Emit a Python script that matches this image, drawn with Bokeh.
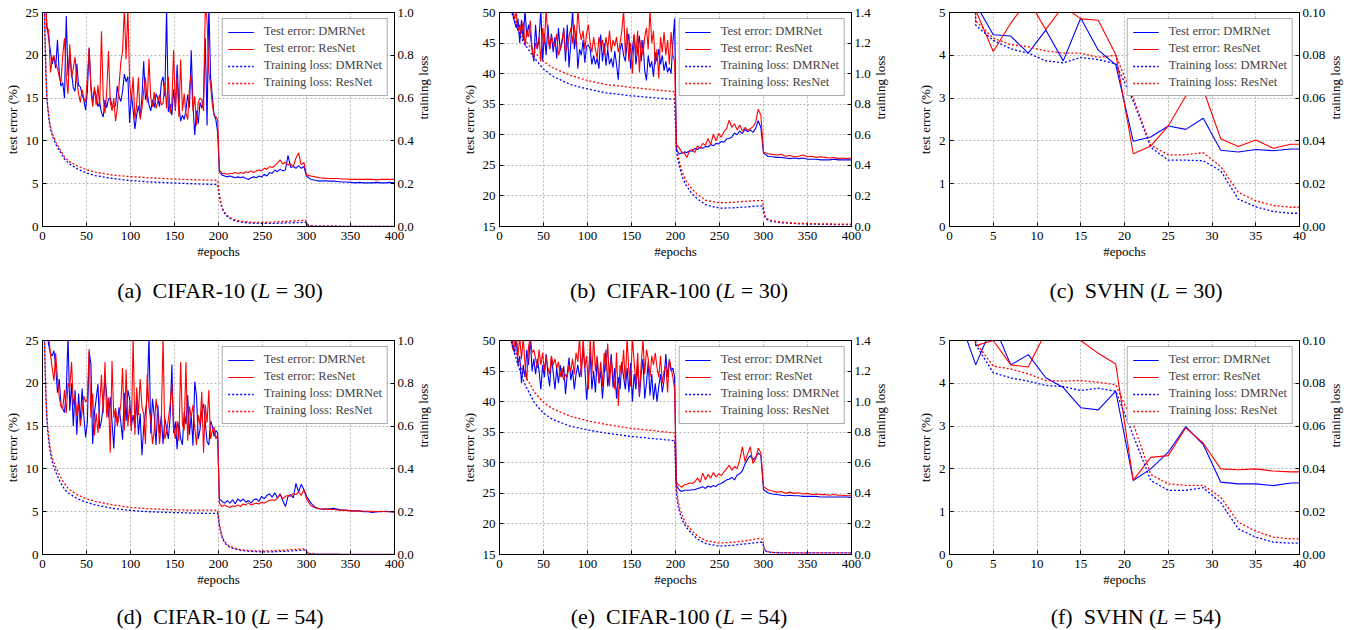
import math
from bokeh.plotting import figure
from bokeh.models import Range1d, LinearAxis, PrintfTickFormatter, Legend, LegendItem, Div
from bokeh.layouts import column, row
from bokeh.embed import file_html
from bokeh.resources import INLINE

FONT = "Liberation Serif"

# ---------------- epochs ----------------
EP_CIFAR_TE = list(range(1, 200, 2)) + list(range(201, 300, 3)) + list(range(300, 401, 5))
EP_CIFAR_TL = [1, 2, 3, 4, 5, 6, 8, 10, 12, 15, 20, 25, 30, 40, 50, 60, 80, 100, 120, 150, 175, 199,
               201, 203, 205, 208, 212, 218, 225, 235, 250, 265, 280, 295, 299,
               301, 303, 306, 310, 320, 340, 360, 380, 400]
EP_SVHN = [1, 3, 5, 7, 9, 11, 13, 15, 17, 19, 21, 23, 25, 27, 29, 31, 33, 35, 37, 39, 40]

# ---------------- (a) CIFAR-10, L=30 ----------------
A_TE_DMR = [32, 27, 23.5, 22, 20.5, 19, 19.8, 18.5, 21.8, 18,
            16.4, 16.8, 15, 24.6, 17.6, 20.3, 18, 16.2, 15.8, 19,
            16.5, 16.3, 15.4, 14.8, 13.6, 15.8, 20.9, 16.5, 14.5, 16,
            15.3, 14.0, 14.5, 13.3, 12.8, 14.8, 13.9, 14.9, 15.0, 14.1,
            14.0, 14.1, 16.4, 15.2, 14.6, 15.8, 17.8, 16.9, 17.5, 12.1,
            15.5, 13.6, 11.4, 13.0, 14.1, 12.8, 15.1, 19.3, 14.8, 15.6,
            14.2, 13.5, 14.8, 13.9, 15.5, 15.0, 14.0, 16.8, 17.5, 15.2,
            25.5, 13.4, 14.3, 13.0, 16.0, 13.8, 18.9, 14.1, 12.3, 13.0,
            12.5, 13.6, 15.4, 13.9, 20.6, 14.2, 10.7, 13.5, 12.0, 14.5,
            13.8, 15.0, 22.0, 11.8, 26, 17.5, 15.2, 13.0, 12.5, 11.0,
            6.4, 6.0, 5.9, 5.8, 5.9, 5.8, 5.7, 5.8, 5.7, 5.8, 5.6, 5.5, 5.7, 5.8, 5.7, 5.9, 5.8,
            6.1, 5.9, 6.3, 6.2, 6.6, 6.4, 6.7, 6.5, 6.6, 8.3, 6.9, 7.0, 6.8, 7.1, 6.8, 7.0,
            5.9, 5.5, 5.4, 5.3, 5.35, 5.3, 5.3, 5.25, 5.2, 5.2, 5.15, 5.1, 5.15, 5.1, 5.1, 5.1,
            5.15, 5.1, 5.1, 5.15, 5.1]
A_TE_RES = [34, 28, 23, 23, 18, 19.5, 20, 19, 18.5, 17.5,
            16.8, 20, 22, 17.5, 15.5, 21.3, 17.4, 18.5, 19.8, 17,
            15.5, 14.5, 16, 15, 14.5, 17.5, 20.8, 16, 14, 16.3,
            14.2, 16.5, 14, 22.8, 15, 13.2, 15.8, 20.5, 14.5, 13.5,
            15, 12.3, 13.8, 16.5, 19.2, 20.5, 25.5, 19.5, 25.5, 17,
            14.5, 17.5, 12.5, 14.2, 17.4, 12.5, 13.8, 15.8, 17.4, 14.5,
            19.6, 15, 14, 15.7, 13.8, 14.6, 15.4, 14.2, 14.4, 16.8,
            13.8, 17.5, 13.2, 14.5, 20.6, 13.5, 17.5, 12.8, 19.5, 13.5,
            15.5, 13.2, 12.5, 16.3, 17.8, 13.5, 15.2, 11.8, 14.5, 15,
            14.8, 13.5, 26, 24, 18, 16.5, 14.2, 13, 12.8, 12.5,
            6.6, 6.2, 6.2, 6.1, 6.2, 6.2, 6.3, 6.2, 6.3, 6.2, 6.4, 6.3, 6.5, 6.3, 6.5, 6.6, 6.5,
            6.8, 6.7, 7.0, 6.9, 7.1, 7.4, 7.8, 7.3, 7.5, 7.2, 7.3, 7.0, 8.0, 8.6, 7.2, 7.5,
            6.0, 5.9, 5.8, 5.7, 5.65, 5.6, 5.6, 5.6, 5.55, 5.55, 5.5, 5.5, 5.5, 5.5, 5.5, 5.5,
            5.45, 5.5, 5.5, 5.5, 5.5]
A_TL_DMR = [1.35, 1.05, 0.85, 0.7, 0.6, 0.55, 0.48, 0.44, 0.415, 0.385, 0.35, 0.315, 0.295, 0.268,
            0.25, 0.238, 0.224, 0.215, 0.209, 0.203, 0.199, 0.196,
            0.14, 0.1, 0.075, 0.055, 0.04, 0.028, 0.021, 0.016, 0.014, 0.015, 0.017, 0.019, 0.02,
            0.008, 0.004, 0.003, 0.002, 0.0015, 0.001, 0.001, 0.001, 0.001]
A_TL_RES = [1.4, 1.08, 0.87, 0.72, 0.61, 0.56, 0.49, 0.45, 0.425, 0.395, 0.36, 0.325, 0.305, 0.282,
            0.265, 0.254, 0.24, 0.233, 0.228, 0.222, 0.218, 0.216,
            0.15, 0.105, 0.08, 0.06, 0.044, 0.032, 0.025, 0.02, 0.019, 0.021, 0.025, 0.029, 0.03,
            0.012, 0.005, 0.003, 0.002, 0.0015, 0.001, 0.001, 0.001, 0.001]

# ---------------- (b) CIFAR-100, L=30 ----------------
B_TE_DMR = [62, 60, 58, 56, 54, 52, 50.5, 49.8, 48.5, 47.5,
            49, 45, 48.8, 45.5, 50.5, 46, 48, 46.5, 44, 42,
            48, 44, 46, 50.5, 42, 46.5, 43, 48, 44, 46.5,
            43.5, 46, 42.5, 47.5, 43.8, 45, 47.5, 42, 48, 41,
            45, 50.5, 44, 47, 40.8, 44, 43, 45.5, 41.8, 44.5,
            44.7, 44, 41.5, 43, 41.5, 42.5, 40.8, 46.4, 42, 45,
            41.3, 44, 41.5, 42.5, 41, 43.7, 41.5, 39, 44, 45,
            43, 42, 45, 46.5, 40.8, 44, 46.3, 41.5, 44, 46.2,
            42, 45.5, 40.5, 38.9, 43, 41, 42, 39.5, 43.5, 42,
            44, 41.5, 43, 40.5, 42, 40.2, 41, 40, 45, 49,
            27.5, 26.9, 27.0, 27.2, 27.1, 27.4, 27.3, 27.8, 27.6, 27.9, 27.8, 28.1, 28.0, 28.4, 28.2,
            28.6, 28.5, 28.9, 28.8, 29.3, 29.4, 29.6, 30.3, 30.0, 30.6, 30.2, 30.9, 30.5, 30.8, 30.4,
            31.0, 32.3, 31.2,
            27.0, 26.5, 26.4, 26.3, 26.3, 26.2, 26.1, 26.2, 26.1, 26.2, 26.0, 26.0, 26.0, 25.9, 25.9,
            25.9, 26.0, 25.9, 25.9, 25.9, 25.9]
B_TE_RES = [64, 62, 60, 58, 55, 53, 51.5, 50.5, 49, 50,
            47, 48, 46.5, 48.5, 44.5, 47, 46, 48.7, 44, 42.5,
            45, 44, 46, 42, 47.5, 45, 50.5, 46, 44, 46.2,
            45, 44.5, 46.5, 43, 44, 45.5, 47, 43.5, 44.5, 46,
            47.5, 45, 48, 44.5, 50.5, 47, 45.5, 47, 44, 46.5,
            48, 45, 43.5, 46, 44, 42.5, 46, 44.5, 45.5, 43,
            46, 44, 47, 43.5, 45.5, 44.5, 46, 43.5, 45, 47,
            50.5, 43, 47.5, 42, 45, 40, 46.5, 43, 47, 40.2,
            45.5, 43, 46, 47.5, 44, 50.5, 45, 47, 41.5, 44,
            39.2, 46, 43.5, 46.8, 43, 45.5, 41.5, 46.8, 43, 42,
            28.4, 27.9, 27.2, 27.0, 26.3, 27.4, 27.6, 27.1, 28.2, 27.8, 28.6, 28.3, 29.4, 28.4, 30.1,
            29.0, 30.2, 29.6, 30.5, 31.0, 32.4, 31.2, 31.8, 30.8, 31.6, 30.6, 31.2, 30.7, 31.0, 31.3,
            32.0, 34.2, 33.2,
            27.2, 26.9, 26.8, 26.7, 26.8, 26.5, 26.6, 26.4, 26.5, 26.7, 26.4, 26.5, 26.3, 26.4, 26.3,
            26.2, 26.3, 26.1, 26.2, 26.1, 26.2]
B_TL_DMR = [2.2, 2.0, 1.9, 1.8, 1.72, 1.65, 1.55, 1.48, 1.43, 1.38, 1.3, 1.23, 1.18, 1.1, 1.03, 0.985,
            0.93, 0.9, 0.875, 0.855, 0.842, 0.832,
            0.5, 0.43, 0.38, 0.32, 0.27, 0.22, 0.18, 0.14, 0.12, 0.122, 0.128, 0.135, 0.133,
            0.07, 0.05, 0.04, 0.033, 0.025, 0.018, 0.015, 0.013, 0.012]
B_TL_RES = [2.2, 2.0, 1.92, 1.83, 1.75, 1.68, 1.58, 1.51, 1.46, 1.41, 1.32, 1.26, 1.21, 1.14, 1.08, 1.04,
            0.99, 0.955, 0.93, 0.91, 0.895, 0.882,
            0.55, 0.46, 0.41, 0.35, 0.3, 0.25, 0.21, 0.17, 0.155, 0.158, 0.165, 0.17, 0.168,
            0.08, 0.055, 0.045, 0.037, 0.028, 0.021, 0.018, 0.016, 0.015]

# ---------------- (c) SVHN, L=30 ----------------
C_TE_DMR = [7.0, 5.2, 4.48, 4.45, 4.05, 4.59, 3.87, 4.87, 4.12, 3.78, 1.99, 2.09, 2.35, 2.27, 2.53,
            1.78, 1.74, 1.8, 1.77, 1.81, 1.81]
C_TE_RES = [7.0, 5.05, 4.09, 4.75, 5.3, 4.6, 5.15, 4.85, 4.82, 4.02, 1.7, 1.88, 2.35, 3.05, 3.2,
            2.05, 1.87, 2.02, 1.83, 1.92, 1.92]
C_TL_DMR = [0.5, 0.094, 0.087, 0.083, 0.081, 0.0774, 0.0765, 0.079, 0.078, 0.076, 0.0587, 0.037,
            0.031, 0.031, 0.0307, 0.026, 0.0128, 0.0092, 0.007, 0.0062, 0.0062]
C_TL_RES = [0.52, 0.096, 0.088, 0.085, 0.084, 0.082, 0.081, 0.081, 0.079, 0.08, 0.06, 0.038,
            0.0335, 0.0335, 0.0345, 0.028, 0.016, 0.012, 0.0098, 0.009, 0.009]

# ---------------- (d) CIFAR-10, L=54 ----------------
D_TE_DMR = [35, 30, 26, 24.5, 23.5, 23.2, 23.8, 22, 18.9, 20.5,
            17.5, 17, 16.6, 19, 25.5, 16.8, 20, 15, 19.2, 14,
            18.8, 15.5, 19.4, 16.2, 13.7, 15.5, 23.7, 22.3, 12.9, 16.5,
            18.2, 19.9, 14.7, 15.6, 17.5, 20.6, 18.5, 16, 18.4, 15.5,
            12.4, 16.8, 15.5, 17.2, 15.5, 13.4, 18.9, 15.6, 19.2, 18.2,
            15, 16.3, 14.8, 18.2, 14, 16.5, 11.6, 14.8, 16.7, 18.5,
            25.5, 14.1, 18.2, 16.2, 12.8, 17.5, 14.2, 16.2, 12.9, 15.9,
            14.8, 13.5, 16, 22.2, 14.2, 15.5, 12.3, 15.4, 13.5, 12.8,
            16.6, 15.2, 18.6, 14, 16.3, 12.7, 20.2, 18.5, 13.5, 14.6,
            16.8, 17.6, 15.4, 13.2, 12.8, 15.6, 15, 13.8, 14.5, 14.2,
            6.5, 6.2, 6.0, 6.3, 6.0, 6.4, 5.9, 6.5, 6.2, 6.5, 6.1, 6.3, 6.0, 6.4, 6.5, 6.2, 6.8,
            6.5, 6.9, 7.1, 6.7, 7.2, 6.6, 7.1, 6.3, 5.6, 6.8, 7.0, 6.6, 8.3, 7.3, 8.2, 7.6,
            6.8, 6.0, 5.5, 5.35, 5.3, 5.3, 5.4, 5.3, 5.2, 5.2, 5.1, 5.1, 5.1, 5.0, 5.0, 4.9,
            5.0, 5.0, 5.05, 5.0, 4.95]
D_TE_RES = [36, 30, 27, 25.5, 23.5, 21.8, 20.3, 23.5, 20.5, 18.4,
            17.3, 17, 19.2, 16.5, 20, 19.5, 22.5, 17.5, 18.7, 16.2,
            17.6, 15, 16.7, 18.5, 17.8, 18.2, 24, 16, 18.8, 13.9,
            16.5, 14.2, 17.5, 21, 16.5, 22.5, 16, 18.3, 11.9, 22.6,
            16, 17.1, 15, 16.1, 17.5, 21.8, 14.5, 21.6, 15, 17.5,
            14.4, 25.5, 14, 19.5, 16.3, 20.5, 17.3, 16.4, 12.9, 21,
            17.2, 15.8, 12.9, 14.5, 18.2, 16.4, 12.9, 15.5, 25.5, 13.5,
            14.3, 15.8, 17.5, 20, 14.8, 13.5, 15.6, 13.3, 22.5, 15.2,
            14.5, 22.5, 13.3, 17.3, 16, 17.5, 14.8, 12.8, 16.3, 15.1,
            19, 11.9, 17.5, 15.4, 19.2, 13.5, 14.5, 14.9, 13.5, 14,
            6.0, 5.6, 5.8, 5.6, 5.5, 5.7, 5.6, 5.8, 5.6, 5.9, 5.8, 6.0, 5.8, 5.9, 6.0, 5.9, 6.1,
            6.0, 6.2, 6.3, 6.4, 6.3, 6.6, 7.0, 6.5, 6.8, 6.9, 6.8, 7.1, 7.0, 7.3, 6.9, 7.6,
            6.5, 5.7, 5.45, 5.35, 5.3, 5.3, 5.25, 5.2, 5.15, 5.15, 5.1, 5.1, 5.1, 5.05, 5.05, 5.05,
            5.0, 5.05, 5.0, 5.0, 5.0]
D_TL_DMR = [1.35, 1.05, 0.86, 0.72, 0.63, 0.57, 0.5, 0.45, 0.42, 0.385, 0.34, 0.305, 0.285, 0.26,
            0.244, 0.232, 0.215, 0.206, 0.2, 0.196, 0.193, 0.192,
            0.135, 0.095, 0.07, 0.05, 0.036, 0.026, 0.019, 0.015, 0.012, 0.013, 0.016, 0.02, 0.021,
            0.008, 0.004, 0.003, 0.002, 0.0015, 0.001, 0.001, 0.001, 0.001]
D_TL_RES = [1.4, 1.08, 0.88, 0.74, 0.65, 0.59, 0.52, 0.47, 0.44, 0.41, 0.365, 0.33, 0.305, 0.278,
            0.26, 0.248, 0.232, 0.22, 0.214, 0.209, 0.207, 0.207,
            0.145, 0.1, 0.075, 0.055, 0.04, 0.03, 0.023, 0.018, 0.016, 0.018, 0.022, 0.026, 0.027,
            0.01, 0.005, 0.003, 0.002, 0.0015, 0.001, 0.001, 0.001, 0.001]

# ---------------- (e) CIFAR-100, L=54 ----------------
E_TE_DMR = [62, 60, 58, 56, 54, 52, 50.5, 49.5, 48, 50.5,
            46, 47.5, 43, 46, 44, 48.5, 46, 50.5, 45, 47,
            44.5, 47, 45, 42, 46, 44, 47.8, 44.5, 42.5, 47.2,
            44.8, 42, 45.5, 43, 46, 44, 45.8, 41.2, 44.5, 47.2,
            43.5, 45.2, 42, 44.5, 46, 44, 45.5, 48.5, 45.5, 40.3,
            44, 48, 42, 45, 41.5, 47.2, 43, 45, 40.5, 44.5,
            48.5, 42.5, 45, 47.8, 42.3, 45.5, 40.5, 44, 42, 46.5,
            44, 42, 45.5, 41.5, 46.3, 40, 44.5, 42, 46, 40.8,
            44.5, 47, 40.5, 43, 46.5, 41, 44.5, 40.3, 43, 40,
            42.5, 44.5, 41.5, 43.5, 47.8, 44, 46.8, 45, 45.5, 44,
            26.3, 25.6, 25.3, 25.5, 25.5, 25.5, 25.6, 25.6, 25.8, 25.9, 26.1, 25.8, 26.2, 26.0, 26.3,
            26.1, 26.5, 26.6, 26.9, 27.2, 27.3, 27.6, 27.2, 28.0, 28.2, 28.7, 29.8, 30.6, 31.2, 30.5,
            30.9, 31.6, 31.2,
            25.6, 25.1, 24.9, 24.8, 24.7, 24.6, 24.7, 24.6, 24.6, 24.5, 24.5, 24.5, 24.5, 24.4, 24.4,
            24.4, 24.4, 24.4, 24.4, 24.4, 24.3]
E_TE_RES = [64, 62, 60, 58, 55, 52, 51, 48.5, 49.5, 51,
            47.5, 50.5, 47, 50.5, 46, 43.5, 49, 50.5, 48, 48.5,
            47, 45.5, 48.5, 46, 48, 45, 47.5, 45.5, 44.5, 47.5,
            46, 47, 45.5, 46.5, 44, 45.5, 43.5, 44.5, 44, 46,
            45, 47, 44.5, 48, 46.5, 50.5, 44, 50.5, 45.5, 47.5,
            42, 50.5, 44.5, 50.5, 45, 47.5, 43, 46.5, 42.5, 48,
            45, 49.5, 42.5, 47, 44.5, 42, 48, 39.3, 46, 44.5,
            48.5, 43, 50.5, 45, 42.5, 50.5, 46.5, 43, 48, 41,
            46, 50.3, 44.5, 48.5, 47, 44, 47.5, 46, 48, 45.5,
            44, 47.5, 43, 45, 46, 41.5, 47, 45.5, 44, 42,
            26.8, 26.3, 26.0, 26.4, 26.5, 26.7, 26.6, 26.9, 27.5, 26.8, 28.3, 27.2, 28.1, 27.5, 28.4,
            27.7, 28.2, 27.9, 28.5, 29.0, 29.6, 28.8, 29.4, 29.0, 30.5, 32.6, 30.2, 31.5, 32.6, 29.9,
            30.6, 32.4, 31.6,
            26.1, 25.6, 25.4, 25.2, 25.3, 25.0, 25.2, 25.0, 25.1, 24.9, 25.0, 24.8, 24.9, 24.8, 24.8,
            24.7, 24.8, 24.7, 24.7, 24.6, 24.6]
E_TL_DMR = [2.2, 2.0, 1.9, 1.8, 1.72, 1.65, 1.55, 1.47, 1.42, 1.36, 1.26, 1.17, 1.1, 0.99, 0.925, 0.885,
            0.84, 0.815, 0.795, 0.772, 0.758, 0.745,
            0.4, 0.32, 0.27, 0.22, 0.18, 0.14, 0.1, 0.07, 0.055, 0.06, 0.07, 0.08, 0.08,
            0.03, 0.02, 0.016, 0.013, 0.011, 0.01, 0.01, 0.01, 0.01]
E_TL_RES = [2.2, 2.0, 1.92, 1.83, 1.75, 1.68, 1.58, 1.5, 1.45, 1.4, 1.3, 1.22, 1.16, 1.06, 0.995, 0.955,
            0.905, 0.875, 0.852, 0.825, 0.81, 0.795,
            0.45, 0.35, 0.3, 0.25, 0.2, 0.16, 0.12, 0.09, 0.075, 0.08, 0.09, 0.105, 0.1,
            0.035, 0.022, 0.017, 0.014, 0.012, 0.011, 0.011, 0.011, 0.011]

# ---------------- (f) SVHN, L=54 ----------------
F_TE_DMR = [5.6, 4.43, 5.4, 4.43, 4.67, 4.13, 3.9, 3.43, 3.38, 3.82, 1.73, 2.0, 2.39, 2.99, 2.57,
            1.69, 1.65, 1.65, 1.61, 1.67, 1.67]
F_TE_RES = [8.0, 4.88, 5.0, 4.43, 4.38, 5.2, 5.3, 5.0, 4.7, 4.45, 1.73, 2.27, 2.31, 2.96, 2.6,
            2.0, 1.98, 2.0, 1.95, 1.93, 1.93]
F_TL_DMR = [0.5, 0.098, 0.085, 0.0825, 0.081, 0.079, 0.0785, 0.0766, 0.0777, 0.0763, 0.0556, 0.0346,
            0.03, 0.03, 0.0312, 0.0243, 0.012, 0.0081, 0.0058, 0.0053, 0.0053]
F_TL_RES = [0.52, 0.099, 0.088, 0.0867, 0.0844, 0.0813, 0.081, 0.0813, 0.0805, 0.0793, 0.0611, 0.0374,
            0.033, 0.0323, 0.0323, 0.0268, 0.0151, 0.0109, 0.0081, 0.0073, 0.0073]

# ---------------- axes / labels ----------------
CIFAR_XTICKS = [0, 50, 100, 150, 200, 250, 300, 350, 400]
SVHN_XTICKS = [0, 5, 10, 15, 20, 25, 30, 35, 40]
C10_YTICKS = [0, 5, 10, 15, 20, 25]
C100_YTICKS = [15, 20, 25, 30, 35, 40, 45, 50]
SVHN_YTICKS = [0, 1, 2, 3, 4, 5]
C10_LTICKS = [0.0, 0.2, 0.4, 0.6, 0.8, 1.0]
C100_LTICKS = [0.0, 0.2, 0.4, 0.6, 0.8, 1.0, 1.2, 1.4]
SVHN_LTICKS = [0.0, 0.02, 0.04, 0.06, 0.08, 0.10]
LEGEND_LABELS = ["Test error: DMRNet", "Test error: ResNet", "Training loss: DMRNet", "Training loss: ResNet"]
CAPTIONS = [("(a)", "CIFAR-10", "30"), ("(b)", "CIFAR-100", "30"), ("(c)", "SVHN", "30"),
            ("(d)", "CIFAR-10", "54"), ("(e)", "CIFAR-100", "54"), ("(f)", "SVHN", "54")]


def style_axis(ax, standoff, label_standoff):
    ax.major_label_text_font = FONT
    ax.major_label_text_font_size = "13px"
    ax.axis_label_text_font = FONT
    ax.axis_label_text_font_size = "13px"
    ax.axis_label_text_font_style = "normal"
    ax.axis_label_text_color = "black"
    ax.major_label_text_color = "black"
    ax.major_tick_in = 4
    ax.major_tick_out = 0
    ax.minor_tick_in = 0
    ax.minor_tick_out = 0
    ax.axis_line_color = "black"
    ax.major_tick_line_color = "black"
    ax.major_label_standoff = standoff
    ax.axis_label_standoff = label_standoff


def panel(width, b_right, height, xmax, xticks, yr, yticks, lr, lticks, lfmt,
          ep_te, te_d, te_r, ep_tl, tl_d, tl_r):
    p = figure(width=width, height=height, x_range=Range1d(0, xmax), y_range=Range1d(*yr),
               output_backend="svg", toolbar_location=None,
               min_border_left=42, min_border_right=b_right, min_border_top=12, min_border_bottom=40)
    p.extra_y_ranges = {"loss": Range1d(*lr)}
    p.outline_line_color = "black"
    p.outline_line_width = 1
    p.background_fill_color = "white"
    p.border_fill_color = "white"
    p.xaxis.ticker = xticks
    p.yaxis.ticker = yticks
    p.xaxis.axis_label = "#epochs"
    p.yaxis.axis_label = "test error (%)"
    style_axis(p.xaxis[0], 5, 1)
    style_axis(p.yaxis[0], 4, 3)
    rax = LinearAxis(y_range_name="loss", ticker=lticks, formatter=PrintfTickFormatter(format=lfmt),
                     axis_label="training loss")
    style_axis(rax, 3, 7)
    try:
        rax.axis_label_orientation = math.pi / 2
    except Exception:
        pass
    p.add_layout(rax, "right")
    p.grid.grid_line_color = "#b4b4b4"
    p.grid.grid_line_dash = "2 2"
    p.grid.grid_line_width = 1

    r1 = p.line(ep_te, te_d, line_color="#0000ff", line_width=1.1)
    r2 = p.line(ep_te, te_r, line_color="#ff0000", line_width=1.1)
    r3 = p.line(ep_tl, tl_d, line_color="#0000ff", line_width=1.3, line_dash="2 2", y_range_name="loss")
    r4 = p.line(ep_tl, tl_r, line_color="#ff0000", line_width=1.3, line_dash="2 2", y_range_name="loss")
    items = [LegendItem(label=lab, renderers=[r]) for lab, r in zip(LEGEND_LABELS, [r1, r2, r3, r4])]
    leg = Legend(items=items, location="top_right")
    leg.label_text_font = FONT
    leg.label_text_font_size = "12.5px"
    leg.glyph_width = 26
    leg.glyph_height = 14
    leg.label_height = 14
    leg.spacing = 2
    leg.padding = 5
    leg.margin = 6
    leg.label_standoff = 10
    leg.border_line_color = "#555555"
    leg.border_line_width = 1
    leg.background_fill_alpha = 1.0
    p.add_layout(leg)
    return p


def caption(cap, width, height, center, pad_top):
    lab, ds, L = cap
    txt = "%s&ensp;%s (<i>L</i> = %s)" % (lab, ds, L)
    html = ('<div style="font-family:\'Liberation Serif\',\'Times New Roman\',serif;font-size:22px;'
            'line-height:20px;text-align:center;width:320px;margin-left:%dpx;padding-top:%dpx;'
            'white-space:nowrap;color:#000">%s</div>') % (center - 160, pad_top, txt)
    return Div(text=html, width=width, height=height, margin=0)


W = [457, 450, 446]
BR = [63, 56, 54]
CAP_CX = [220, 222, 229]          # caption centre, px from the left edge of each column
H_FIG = 266                       # 12 top border + 214 frame + 40 bottom border

SPEC = [
    (400, CIFAR_XTICKS, (0, 25), C10_YTICKS, (0, 1.0), C10_LTICKS, "%.1f"),
    (400, CIFAR_XTICKS, (15, 50), C100_YTICKS, (0, 1.4), C100_LTICKS, "%.1f"),
    (40, SVHN_XTICKS, (0, 5), SVHN_YTICKS, (0, 0.1), SVHN_LTICKS, "%.2f"),
]
DATA_TOP = [(EP_CIFAR_TE, A_TE_DMR, A_TE_RES, EP_CIFAR_TL, A_TL_DMR, A_TL_RES),
            (EP_CIFAR_TE, B_TE_DMR, B_TE_RES, EP_CIFAR_TL, B_TL_DMR, B_TL_RES),
            (EP_SVHN, C_TE_DMR, C_TE_RES, EP_SVHN, C_TL_DMR, C_TL_RES)]
DATA_BOT = [(EP_CIFAR_TE, D_TE_DMR, D_TE_RES, EP_CIFAR_TL, D_TL_DMR, D_TL_RES),
            (EP_CIFAR_TE, E_TE_DMR, E_TE_RES, EP_CIFAR_TL, E_TL_DMR, E_TL_RES),
            (EP_SVHN, F_TE_DMR, F_TE_RES, EP_SVHN, F_TL_DMR, F_TL_RES)]

top = [panel(W[i], BR[i], H_FIG, *SPEC[i], *DATA_TOP[i]) for i in range(3)]
bot = [panel(W[i], BR[i], H_FIG, *SPEC[i], *DATA_BOT[i]) for i in range(3)]
cap_top = [caption(CAPTIONS[i], W[i], 62, CAP_CX[i], 15) for i in range(3)]
cap_bot = [caption(CAPTIONS[3 + i], W[i], 36, CAP_CX[i], 13) for i in range(3)]

layout = column(row(*top), row(*cap_top), row(*bot), row(*cap_bot))

open("out.html", "w").write(file_html(layout, INLINE))
